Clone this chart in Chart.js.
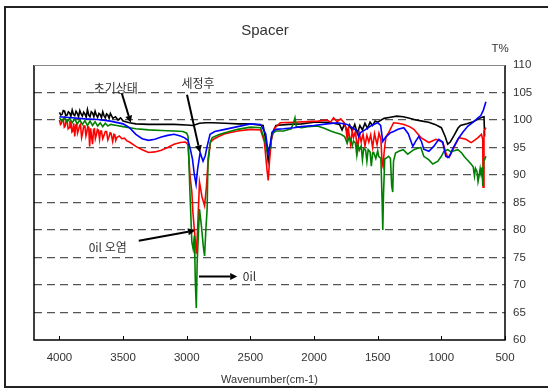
<!DOCTYPE html>
<html><head><meta charset="utf-8">
<script src="https://cdn.jsdelivr.net/npm/chart.js@4/dist/chart.umd.min.js"></script>
<style>html,body{margin:0;padding:0;background:#fff;}canvas{display:block;}</style>
</head><body>
<canvas id="c" width="548" height="388"></canvas>
<script>
// ---- data (wavenumber cm-1, T%) ----
const xTicks = [4000, 3500, 3000, 2500, 2000, 1500, 1000, 500];
const yTicks = [60, 65, 70, 75, 80, 85, 90, 95, 100, 105, 110];

const initialState = [ // 초기상태 (black)
 [4000,101.4],[3990,100.9],[3980,101.0],[3970,101.7],[3960,101.6],[3950,100.8],[3940,100.9],[3930,101.5],[3920,101.3],[3910,100.7],
 [3900,101.8],[3890,101.0],[3880,100.8],[3870,101.6],[3860,101.2],[3850,100.6],[3840,101.7],[3830,101.1],[3820,100.7],[3810,101.4],
 [3800,101.1],[3790,100.5],[3780,101.9],[3770,100.9],[3760,100.6],[3750,101.5],[3740,101.3],[3730,100.6],[3720,101.6],[3710,100.9],
 [3700,100.5],[3690,101.2],[3680,101.0],[3670,100.4],[3660,101.5],[3650,100.8],[3640,100.4],[3630,101.1],[3620,100.9],[3610,100.3],
 [3600,101.2],[3580,100.3],[3560,100.6],[3540,100.0],[3520,100.4],[3500,99.8],[3450,99.5],[3400,99.3],[3300,99.2],[3200,99.2],
 [3100,99.2],[3000,99.1],[2950,99.0],[2900,99.4],[2850,99.5],[2800,99.5],[2700,99.4],[2600,99.3],[2500,99.3],[2400,99.0],
 [2380,96.5],[2360,92.5],[2345,94.5],[2330,97.5],[2300,99.0],[2200,99.2],[2100,99.3],[2000,99.6],[1900,99.6],[1850,99.4],
 [1800,99.2],[1780,98.2],[1760,99.3],[1740,97.8],[1720,99.1],[1700,98.0],[1680,99.2],[1660,97.6],[1640,99.0],[1620,98.2],
 [1600,99.4],[1580,98.5],[1560,99.6],[1540,99.0],[1520,99.8],[1500,99.6],[1450,100.3],[1400,100.5],[1350,100.7],[1300,100.6],
 [1250,100.3],[1200,100.0],[1150,99.8],[1100,99.6],[1050,99.2],[1000,98.6],[970,97.0],[950,95.6],[930,96.0],[900,97.2],
 [870,98.5],[850,99.0],[800,99.3],[750,99.7],[700,100.3],[680,100.5],[665,100.6],[660,97.0]
];

const afterCleaning = [ // 세정후 (blue)
 [4000,100.6],[3900,100.4],[3800,100.2],[3700,100.1],[3600,99.8],[3500,99.3],[3450,98.6],[3400,97.4],[3350,96.6],[3300,96.3],
 [3250,96.5],[3200,96.9],[3150,97.2],[3100,97.4],[3050,97.1],[3020,96.8],[2990,96.3],[2970,94.5],[2955,92.9],[2940,90.0],
 [2927,88.3],[2915,91.0],[2895,94.1],[2872,92.5],[2855,93.5],[2840,95.2],[2817,97.4],[2780,97.9],[2700,98.3],[2600,98.8],
 [2500,99.3],[2420,99.2],[2380,97.5],[2360,94.0],[2345,95.5],[2330,97.8],[2300,98.3],[2240,98.4],[2160,98.6],[2100,98.8],
 [2000,99.0],[1900,99.3],[1815,99.5],[1740,99.2],[1700,98.6],[1660,98.0],[1650,97.0],[1635,97.7],[1600,98.2],[1550,99.0],
 [1500,99.5],[1477,99.0],[1460,96.1],[1440,96.8],[1400,97.7],[1375,97.9],[1340,98.3],[1295,98.6],[1260,97.5],[1224,95.2],
 [1200,96.2],[1177,97.0],[1155,96.0],[1138,94.7],[1098,94.3],[1060,95.2],[1020,96.5],[990,96.0],[965,93.4],[940,93.2],
 [910,94.8],[870,96.5],[830,97.8],[791,98.9],[750,99.6],[712,100.4],[690,100.8],[670,101.8],[650,103.3]
];

const oilContaminated = [ // 0il 오염 (red)
 [4000,100.0],[3992,99.2],[3985,99.4],[3978,100.1],[3970,100.1],[3962,98.7],[3955,98.9],[3948,99.8],[3940,99.9],[3932,98.4],
 [3925,98.6],[3918,99.7],[3910,99.6],[3902,97.8],[3895,98.0],[3888,99.4],[3880,97.0],[3872,99.1],[3865,99.3],[3858,97.6],
 [3850,98.2],[3842,99.0],[3835,99.2],[3826,96.8],[3818,97.6],[3810,98.9],[3800,98.9],[3792,97.1],[3785,97.8],[3778,98.8],
 [3770,98.7],[3763,95.2],[3755,98.5],[3748,97.0],[3740,95.6],[3732,98.3],[3725,98.4],[3718,96.6],[3710,97.3],[3702,98.3],
 [3695,98.2],[3685,96.5],[3678,98.0],[3670,98.0],[3660,96.6],[3650,97.2],[3640,97.9],[3630,97.9],[3620,96.4],[3610,97.0],
 [3602,97.7],[3595,97.6],[3582,96.1],[3572,97.4],[3565,97.3],[3558,96.3],[3550,96.8],[3530,97.1],[3510,96.6],[3490,96.7],
 [3470,96.2],[3450,96.0],[3400,95.2],[3350,94.6],[3300,94.1],[3250,94.2],
 [3200,94.5],[3150,95.0],[3100,95.6],[3050,95.9],[3010,96.0],[2990,95.5],[2975,90.0],[2960,86.9],[2952,83.3],[2940,80.0],
 [2925,75.7],[2915,80.0],[2900,88.7],[2880,86.0],[2860,84.4],[2845,88.0],[2835,91.6],[2815,95.9],[2790,96.5],[2750,97.0],
 [2700,97.5],[2600,98.0],[2500,98.3],[2420,98.2],[2390,96.0],[2370,91.0],[2360,89.0],[2350,92.5],[2335,96.5],[2310,98.5],
 [2265,99.5],[2160,99.6],[2050,99.7],[1970,99.8],[1900,100.0],[1870,99.6],[1847,100.4],[1820,99.7],[1790,100.2],[1768,99.6],
 [1750,98.6],[1740,96.5],[1730,98.3],[1713,95.6],[1700,98.0],[1690,96.8],[1675,97.9],[1658,94.5],[1645,97.6],[1630,96.0],
 [1615,97.4],[1600,95.3],[1585,97.2],[1570,96.0],[1555,97.3],[1540,95.0],[1525,97.5],[1505,95.5],[1490,97.6],[1475,96.5],
 [1465,92.0],[1458,91.5],[1450,94.0],[1435,97.0],[1414,97.7],[1375,99.5],[1340,99.4],[1295,99.2],[1250,98.8],[1216,98.3],
 [1161,96.8],[1098,95.9],[1043,96.5],[1010,96.2],[988,95.9],[965,94.1],[950,93.2],[930,93.6],[910,94.6],[862,96.8],
 [807,96.5],[767,95.9],[740,96.3],[712,96.8],[685,97.4],[675,96.5],[672,87.8],[665,98.0],[650,98.6]
];

const oil = [ // 0il (green)
 [4000,100.4],[3980,99.8],[3960,100.5],[3940,99.6],[3920,100.3],[3900,99.5],[3880,100.2],[3860,99.3],[3840,100.0],[3820,99.2],
 [3800,99.9],[3780,99.0],[3760,99.8],[3740,99.0],[3720,99.7],[3700,98.9],[3680,99.5],[3660,98.8],[3640,99.4],[3620,98.9],
 [3600,99.2],[3550,99.0],[3500,98.8],[3450,98.6],[3400,98.4],[3300,98.2],[3200,98.1],[3100,98.0],[3030,97.9],[3000,97.6],
 [2990,97.0],[2975,86.9],[2960,77.8],[2950,76.6],[2940,79.0],[2932,70.0],[2925,65.8],[2918,74.3],[2900,83.8],[2885,80.8],
 [2870,77.0],[2860,75.3],[2850,80.0],[2840,83.8],[2833,92.9],[2815,96.0],[2800,96.8],[2750,97.3],[2700,97.7],[2600,98.3],
 [2500,98.7],[2420,98.6],[2390,96.5],[2370,94.5],[2360,93.8],[2345,95.0],[2330,97.5],[2300,98.0],[2240,98.0],[2180,98.4],
 [2160,99.6],[2150,100.4],[2140,98.8],[2100,98.6],[2050,98.8],[1973,98.9],[1920,98.5],[1870,98.0],[1830,97.7],[1790,97.4],
 [1760,97.0],[1740,95.8],[1725,96.8],[1713,96.5],[1700,95.3],[1690,96.2],[1675,95.8],[1665,93.8],[1658,95.6],[1645,94.5],
 [1630,95.3],[1620,92.8],[1610,94.8],[1595,94.5],[1585,92.5],[1575,94.6],[1560,94.2],[1550,91.6],[1540,94.0],[1532,94.1],
 [1515,93.0],[1500,94.4],[1492,93.4],[1475,93.0],[1465,85.0],[1460,80.0],[1455,86.0],[1445,92.9],[1425,93.2],[1414,93.4],
 [1400,93.0],[1390,88.0],[1382,86.9],[1376,92.5],[1360,94.0],[1335,94.3],[1300,94.6],[1264,93.8],[1240,94.2],[1216,94.6],
 [1190,94.8],[1161,95.0],[1138,93.4],[1100,92.8],[1067,92.0],[1027,92.5],[1000,93.4],[980,94.3],[950,94.6],[925,94.2],
 [900,94.4],[870,94.6],[840,94.0],[822,93.4],[790,92.6],[767,92.0],[750,91.5],[740,89.8],[732,91.2],[720,90.6],
 [712,88.8],[704,89.8],[695,91.2],[688,90.2],[680,91.4],[676,89.0],[673,88.0],[668,92.5],[660,92.8],[650,93.4]
];

// annotation labels and arrows, anchored in data coordinates
const notes = [
 {text:'초기상태', at:[3558,105.8], align:'center', from:[3511,104.9], to:[3440,99.5]},
 {text:'세정후',   at:[2912,106.7], align:'center', from:[2998,104.6], to:[2896,94.1]},
 {text:'0il 오염', at:[3621,76.8],  align:'center', from:[3377,78.05], to:[2935,79.9]},
 {text:'0il',      at:[2560,71.6],  align:'left',   from:[2904,71.55], to:[2604,71.55]}
];

const toXY = arr => arr.map(([x, y]) => ({x, y}));

function arrow(ctx, x1, y1, x2, y2) {
  const ang = Math.atan2(y2 - y1, x2 - x1), L = 7, W = 3.5;
  const bx = x2 - L * Math.cos(ang), by = y2 - L * Math.sin(ang);
  ctx.beginPath(); ctx.moveTo(x1, y1); ctx.lineTo(bx, by); ctx.stroke();
  ctx.beginPath(); ctx.moveTo(x2, y2);
  ctx.lineTo(bx + W * Math.sin(ang), by - W * Math.cos(ang));
  ctx.lineTo(bx - W * Math.sin(ang), by + W * Math.cos(ang));
  ctx.closePath(); ctx.fill();
}

const deco = {
  id: 'deco',
  beforeDraw(chart) {
    const ctx = chart.ctx;
    ctx.save(); ctx.fillStyle = '#fff'; ctx.fillRect(0, 0, chart.width, chart.height); ctx.restore();
  },
  afterDraw(chart) {
    const {ctx, chartArea: a, scales: {x, y}} = chart;
    ctx.save();
    // plot frame
    ctx.strokeStyle = '#000'; ctx.lineWidth = 1.5;
    ctx.beginPath(); ctx.moveTo(a.left, a.top); ctx.lineTo(a.left, a.bottom); ctx.lineTo(a.right, a.bottom); ctx.lineTo(a.right, a.top); ctx.stroke();
    ctx.strokeStyle = '#888'; ctx.lineWidth = 1;
    ctx.beginPath(); ctx.moveTo(a.left, a.top + 0.5); ctx.lineTo(a.right, a.top + 0.5); ctx.stroke();
    // inward tick marks on x axis
    ctx.strokeStyle = '#000'; ctx.lineWidth = 1;
    xTicks.forEach(v => { const px = Math.round(x.getPixelForValue(v)) + 0.5; ctx.beginPath(); ctx.moveTo(px, a.bottom); ctx.lineTo(px, a.bottom - 4); ctx.stroke(); });
    // outer border
    ctx.strokeStyle = '#222'; ctx.lineWidth = 2;
    ctx.beginPath(); ctx.moveTo(5, 388); ctx.lineTo(5, 7); ctx.lineTo(548, 7); ctx.stroke();
    ctx.beginPath(); ctx.moveTo(5, 387); ctx.lineTo(548, 387); ctx.stroke();
    // title and unit
    ctx.fillStyle = '#333'; ctx.textAlign = 'center'; ctx.textBaseline = 'middle';
    ctx.font = '15px "Liberation Sans", Arial, sans-serif';
    ctx.fillText('Spacer', 265, 31);
    ctx.font = '11.5px "Liberation Sans", Arial, sans-serif';
    ctx.fillText('T%', 500, 49);
    // annotations
    ctx.font = '12px "Noto Sans CJK KR", "Liberation Sans", sans-serif';
    ctx.strokeStyle = '#000'; ctx.fillStyle = '#000'; ctx.lineWidth = 2;
    notes.forEach(n => {
      arrow(ctx, x.getPixelForValue(n.from[0]), y.getPixelForValue(n.from[1]), x.getPixelForValue(n.to[0]), y.getPixelForValue(n.to[1]));
    });
    ctx.fillStyle = '#333';
    notes.forEach(n => {
      ctx.textAlign = n.align;
      ctx.fillText(n.text, x.getPixelForValue(n.at[0]), y.getPixelForValue(n.at[1]));
    });
    ctx.restore();
  }
};

const ds = (label, data, color, order) => ({label, data: toXY(data), borderColor: color, backgroundColor: color, borderWidth: 1.6, pointRadius: 0, tension: 0, fill: false, order});

new Chart(document.getElementById('c'), {
  type: 'line',
  data: {
    datasets: [
      ds('세정후', afterCleaning, '#0000ff', 1),
      ds('0il', oil, '#008000', 2),
      ds('0il 오염', oilContaminated, '#ff0000', 3),
      ds('초기상태', initialState, '#000000', 4)
    ]
  },
  options: {
    responsive: false, animation: false, events: [],
    layout: {padding: {left: 34, top: 65, right: 6, bottom: 0}},
    plugins: {legend: {display: false}, tooltip: {enabled: false}, title: {display: false}},
    scales: {
      x: {
        type: 'linear', reverse: true, min: 500, max: 4200,
        afterBuildTicks: s => { s.ticks = xTicks.slice().sort((a, b) => a - b).map(v => ({value: v})); },
        afterFit: s => { s.height = 48; },
        grid: {display: false, drawTicks: false},
        border: {display: false},
        ticks: {padding: 11, color: '#333', callback: v => String(v), font: {size: 11.5, family: '"Liberation Sans", Arial, sans-serif'}, maxRotation: 0, autoSkip: false},
        title: {display: true, text: 'Wavenumber(cm-1)', color: '#333', padding: {top: 0, bottom: 1}, font: {size: 11, family: '"Liberation Sans", Arial, sans-serif'}}
      },
      y: {
        type: 'linear', position: 'right', min: 60, max: 110,
        afterBuildTicks: s => { s.ticks = yTicks.map(v => ({value: v})); },
        afterFit: s => { s.width = 37; },
        grid: {drawTicks: false, lineWidth: 1.3, color: c => (c.tick && (c.tick.value === 60 || c.tick.value === 110)) ? 'rgba(0,0,0,0)' : '#555'},
        border: {display: false, dash: [8, 5]},
        ticks: {padding: 8, color: '#333', callback: v => String(v), font: {size: 11.5, family: '"Liberation Sans", Arial, sans-serif'}}
      }
    }
  },
  plugins: [deco]
});
</script>
</body></html>
